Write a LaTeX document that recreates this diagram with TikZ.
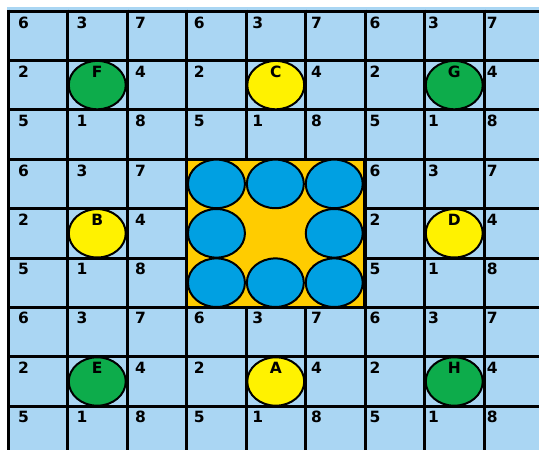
\documentclass[tikz,border=0pt]{standalone}
\usepackage{fontspec}
\setmainfont{DejaVu Sans}
\definecolor{bgblue}{RGB}{170,214,243}
\definecolor{cgreen}{RGB}{13,172,75}
\definecolor{cyellow}{RGB}{255,242,0}
\definecolor{corange}{RGB}{255,204,0}
\definecolor{cblue}{RGB}{0,160,226}
\begin{document}
\begin{tikzpicture}[x=1pt,y=-1pt,
  gridline/.style={black,line width=3pt},
  blockrect/.style={fill=corange,draw=black,line width=3pt},
  ringline/.style={draw=black,line width=2pt},
  numlabel/.style={font=\bfseries\fontsize{15.5}{15.5}\selectfont,anchor=west,inner sep=0pt},
  letlabel/.style={font=\bfseries\fontsize{15.5}{15.5}\selectfont,anchor=center,inner sep=0pt}]
\useasboundingbox (0,0) rectangle (539,450);
\fill[bgblue] (7,7) rectangle (539,450);
% grid
\foreach \i in {0,...,8} { \draw[gridline] ({8+59.5*\i},9.5) -- ({8+59.5*\i},450); }
\foreach \j in {0,...,8} { \draw[gridline] (8,{11+49.4*\j}) -- (539,{11+49.4*\j}); }
% central block
\draw[blockrect] (186.5,159.2) rectangle (364,307.4);
\foreach \c/\r in {0/0,1/0,2/0,0/1,2/1,0/2,1/2,2/2} {
  \draw[ringline,fill=cblue] ({187+58.9*(\c+0.5)},{159.2+49.4*(\r+0.5)}) ellipse [x radius=28.5, y radius=24.3];
}
% small circles with letters
\foreach \bc/\br/\lab/\col in {0/0/F/cgreen,1/0/C/cyellow,2/0/G/cgreen,0/1/B/cyellow,2/1/D/cyellow,0/2/E/cgreen,1/2/A/cyellow,2/2/H/cgreen} {
  \draw[ringline,fill=\col] ({8+59.5*(3*\bc+1.5)},{11+49.4*(3*\br+1.5)}) ellipse [x radius=28.5, y radius=24.2];
  \node[letlabel] (L\lab) at ({8+59.5*(3*\bc+1.5)},{22.5+49.3*(3*\br+1)}) {\lab};
}
% numbers
\foreach \c in {0,...,8} {
  \foreach \r in {0,...,8} {
    \pgfmathtruncatemacro{\mc}{mod(\c,3)}
    \pgfmathtruncatemacro{\mr}{mod(\r,3)}
    \pgfmathtruncatemacro{\kk}{3*\mr+\mc}
    \pgfmathtruncatemacro{\vv}{{6,3,7,2,0,4,5,1,8}[\kk]}
    \pgfmathtruncatemacro{\skipit}{(\mr==1 && \mc==1) || (\c>2 && \c<6 && \r>2 && \r<6)}
    \ifnum\skipit=0
      \node[numlabel] (n\c-\r) at ({17.8+58.6*\c},{22.5+49.3*\r}) {\vv};
    \fi
  }
}
\end{tikzpicture}
\end{document}
